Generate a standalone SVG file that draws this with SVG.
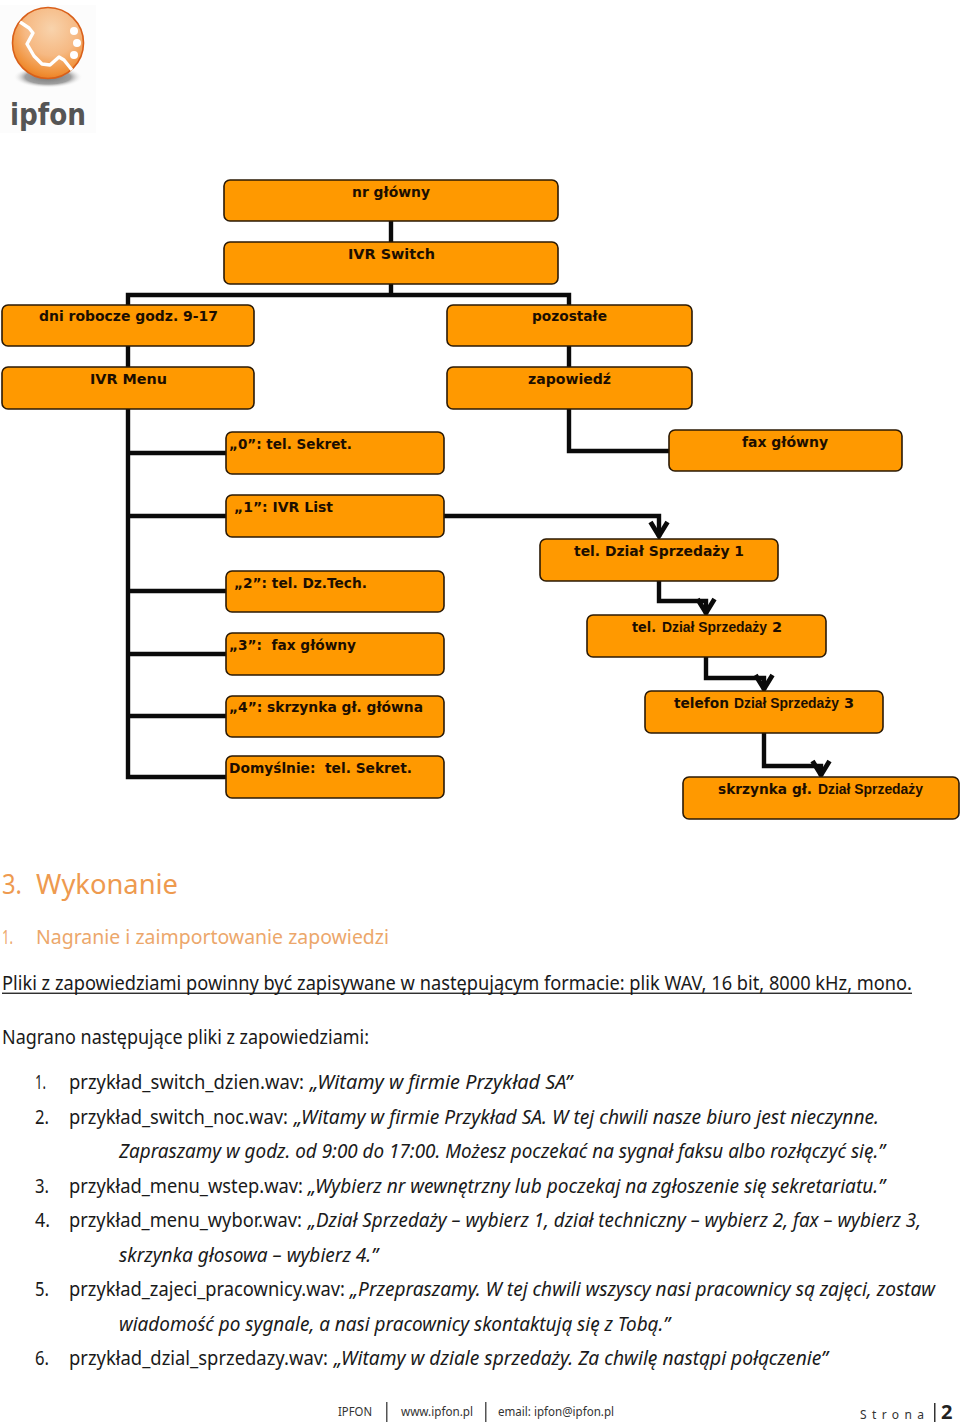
<svg xmlns="http://www.w3.org/2000/svg" width="960" height="1425" viewBox="0 0 960 1425">
<style>
.box{fill:#ff9900;stroke:#2b1a05;stroke-width:1.6}
.l{font:bold 14.5px "DejaVu Sans",Verdana,sans-serif;fill:#1c0e00}
.a{font:bold 14px "Liberation Sans",Arial,sans-serif;fill:#1c0e00}
.c{fill:none;stroke:#0a0a0a;stroke-width:4.4;stroke-linejoin:miter}
.t{font:19px "Noto Sans",sans-serif;fill:#1a1a1a}
.i{font-style:italic}
.h1{font:27.5px "Noto Sans",sans-serif;fill:#ee9a4f}
.h2{font:20px "Noto Sans",sans-serif;fill:#eca76b}
.f{font:13px "Noto Sans",sans-serif;fill:#333}
</style>
<defs>
<radialGradient id="ball" cx="0.55" cy="0.3" r="0.75"><stop offset="0" stop-color="#f8d3ac"/><stop offset="0.5" stop-color="#f6b983"/><stop offset="0.85" stop-color="#f08f35"/><stop offset="1" stop-color="#e8741a"/></radialGradient>
<radialGradient id="shadow"><stop offset="0" stop-color="#777"/><stop offset="0.65" stop-color="#a0a0a0"/><stop offset="1" stop-color="#fff" stop-opacity="0"/></radialGradient>
<marker id="arrow" markerUnits="userSpaceOnUse" markerWidth="24" markerHeight="24" refX="18" refY="12" orient="auto" viewBox="0 0 24 24">
<path d="M3 3.5 L17 12 L3 20.5" fill="none" stroke="#0a0a0a" stroke-width="4.8"/>
</marker>
</defs>
<rect width="960" height="1425" fill="#fff"/>
<g id="logo">
<rect x="0" y="5" width="96" height="128" fill="#fcfcfc"/>
<ellipse cx="48" cy="77" rx="35" ry="11" fill="url(#shadow)"/>
<circle cx="48" cy="43" r="35.5" fill="url(#ball)" stroke="#d9601a" stroke-width="1.6"/>
<path d="M20 22 L29 28 L33 33 L27 44 L34 56 L42 64 L50 65 L59 57 L64 60 L72 70" fill="none" stroke="#fff" stroke-width="3.4" stroke-linejoin="round"/>
<circle cx="74" cy="31" r="4" fill="#fff"/><circle cx="77" cy="43" r="4" fill="#fff"/><circle cx="74" cy="55" r="4" fill="#fff"/>
<text x="10" y="125" font-family="'DejaVu Sans Condensed','DejaVu Sans',sans-serif" font-weight="bold" font-size="31" fill="#555" textLength="76" lengthAdjust="spacingAndGlyphs">ipfon</text>
</g>
<g id="connectors">
<path class="c" d="M391 221V242"/>
<path class="c" d="M391 284V295M128 305V295H569V305"/>
<path class="c" d="M128 346V367"/>
<path class="c" d="M569 346V367"/>
<path class="c" d="M128 409V777H226M128 453H226M128 516H226M128 591H226M128 654H226M128 716H226"/>
<path class="c" d="M569 409V451H669"/>
<path class="c" d="M444 516H659V537" marker-end="url(#arrow)"/>
<path class="c" d="M659 581V601H706V614" marker-end="url(#arrow)"/>
<path class="c" d="M706 657V678H764V690" marker-end="url(#arrow)"/>
<path class="c" d="M764 733V766H821V776" marker-end="url(#arrow)"/>
</g>
<g id="n-glowny"><rect class="box" x="224" y="180" width="334" height="41" rx="6"/><text class="l" x="352" y="197" textLength="78" lengthAdjust="spacingAndGlyphs">nr główny</text></g>
<g id="n-switch"><rect class="box" x="224" y="242" width="334" height="42" rx="6"/><text class="l" x="348" y="259" textLength="87" lengthAdjust="spacingAndGlyphs">IVR Switch</text></g>
<g id="n-dni"><rect class="box" x="2" y="305" width="252" height="41" rx="6"/><text class="l" x="39" y="321" textLength="179" lengthAdjust="spacingAndGlyphs">dni robocze godz. 9-17</text></g>
<g id="n-pozostale"><rect class="box" x="447" y="305" width="245" height="41" rx="6"/><text class="l" x="532" y="321" textLength="75" lengthAdjust="spacingAndGlyphs">pozostałe</text></g>
<g id="n-menu"><rect class="box" x="2" y="367" width="252" height="42" rx="6"/><text class="l" x="90" y="384" textLength="77" lengthAdjust="spacingAndGlyphs">IVR Menu</text></g>
<g id="n-zapowiedz"><rect class="box" x="447" y="367" width="245" height="42" rx="6"/><text class="l" x="528" y="384" textLength="83" lengthAdjust="spacingAndGlyphs">zapowiedź</text></g>
<g id="n-0"><rect class="box" x="226" y="432" width="218" height="42" rx="6"/><text class="l" x="229" y="449" textLength="123" lengthAdjust="spacingAndGlyphs">„0”: tel. Sekret.</text></g>
<g id="n-fax"><rect class="box" x="669" y="430" width="233" height="41" rx="6"/><text class="l" x="742" y="447" textLength="86" lengthAdjust="spacingAndGlyphs">fax główny</text></g>
<g id="n-1"><rect class="box" x="226" y="495" width="218" height="42" rx="6"/><text class="l" x="234" y="512" textLength="99" lengthAdjust="spacingAndGlyphs">„1”: IVR List</text></g>
<g id="n-2"><rect class="box" x="226" y="571" width="218" height="41" rx="6"/><text class="l" x="234" y="588" textLength="133" lengthAdjust="spacingAndGlyphs">„2”: tel. Dz.Tech.</text></g>
<g id="n-3"><rect class="box" x="226" y="633" width="218" height="42" rx="6"/><text class="l" x="229" y="650" textLength="127" lengthAdjust="spacingAndGlyphs" xml:space="preserve">„3”:  fax główny</text></g>
<g id="n-4"><rect class="box" x="226" y="696" width="218" height="41" rx="6"/><text class="l" x="229" y="712" textLength="194" lengthAdjust="spacingAndGlyphs">„4”: skrzynka gł. główna</text></g>
<g id="n-dom"><rect class="box" x="226" y="756" width="218" height="42" rx="6"/><text class="l" x="229" y="773" textLength="183" lengthAdjust="spacingAndGlyphs" xml:space="preserve">Domyślnie:  tel. Sekret.</text></g>
<g id="n-tel1"><rect class="box" x="540" y="539" width="238" height="42" rx="6"/><text class="l" x="574" y="556" textLength="170" lengthAdjust="spacingAndGlyphs">tel. Dział Sprzedaży 1</text></g>
<g id="n-tel2"><rect class="box" x="587" y="615" width="239" height="42" rx="6"/><text class="l" x="632" y="632" textLength="24" lengthAdjust="spacingAndGlyphs">tel.</text><text class="a" x="662" y="632" textLength="105" lengthAdjust="spacingAndGlyphs">Dział Sprzedaży</text><text class="l" x="772" y="632">2</text></g>
<g id="n-tel3"><rect class="box" x="645" y="691" width="238" height="42" rx="6"/><text class="l" x="674" y="708" textLength="55" lengthAdjust="spacingAndGlyphs">telefon</text><text class="a" x="734" y="708" textLength="105" lengthAdjust="spacingAndGlyphs">Dział Sprzedaży</text><text class="l" x="844" y="708">3</text></g>
<g id="n-skrz"><rect class="box" x="683" y="777" width="276" height="42" rx="6"/><text class="l" x="718" y="794" textLength="94" lengthAdjust="spacingAndGlyphs">skrzynka gł.</text><text class="a" x="818" y="794" textLength="105" lengthAdjust="spacingAndGlyphs">Dział Sprzedaży</text></g>
<g id="body">
<text class="h1" x="2" y="894" textLength="20" lengthAdjust="spacingAndGlyphs">3.</text><text class="h1" x="36" y="894" textLength="142" lengthAdjust="spacingAndGlyphs">Wykonanie</text>
<text class="h2" x="2" y="944" textLength="11" lengthAdjust="spacingAndGlyphs">1.</text><text class="h2" x="36" y="944" textLength="353" lengthAdjust="spacingAndGlyphs">Nagranie i zaimportowanie zapowiedzi</text>
<text class="t" x="2" y="990" textLength="910" lengthAdjust="spacingAndGlyphs">Pliki z zapowiedziami powinny być zapisywane w następującym formacie: plik WAV, 16 bit, 8000 kHz, mono.</text>
<rect x="2" y="992.6" width="910" height="1.3" fill="#1a1a1a"/>
<text class="t" x="2" y="1044" textLength="367" lengthAdjust="spacingAndGlyphs">Nagrano następujące pliki z zapowiedziami:</text>
<text class="t" x="35" y="1089" textLength="11" lengthAdjust="spacingAndGlyphs">1.</text><text class="t" x="69" y="1089" textLength="235" lengthAdjust="spacingAndGlyphs">przykład_switch_dzien.wav:</text><text class="t i" x="310" y="1089" textLength="262" lengthAdjust="spacingAndGlyphs">„Witamy w firmie Przykład SA”</text>
<text class="t" x="35" y="1124" textLength="14" lengthAdjust="spacingAndGlyphs">2.</text><text class="t" x="69" y="1124" textLength="219" lengthAdjust="spacingAndGlyphs">przykład_switch_noc.wav:</text><text class="t i" x="294" y="1124" textLength="585" lengthAdjust="spacingAndGlyphs">„Witamy w firmie Przykład SA. W tej chwili nasze biuro jest nieczynne.</text>
<text class="t i" x="119" y="1158" textLength="766" lengthAdjust="spacingAndGlyphs">Zapraszamy w godz. od 9:00 do 17:00. Możesz poczekać na sygnał faksu albo rozłączyć się.”</text>
<text class="t" x="35" y="1193" textLength="14" lengthAdjust="spacingAndGlyphs">3.</text><text class="t" x="69" y="1193" textLength="234" lengthAdjust="spacingAndGlyphs">przykład_menu_wstep.wav:</text><text class="t i" x="308" y="1193" textLength="577" lengthAdjust="spacingAndGlyphs">„Wybierz nr wewnętrzny lub poczekaj na zgłoszenie się sekretariatu.”</text>
<text class="t" x="35" y="1227" textLength="15" lengthAdjust="spacingAndGlyphs">4.</text><text class="t" x="69" y="1227" textLength="233" lengthAdjust="spacingAndGlyphs">przykład_menu_wybor.wav:</text><text class="t i" x="308" y="1227" textLength="613" lengthAdjust="spacingAndGlyphs">„Dział Sprzedaży – wybierz 1, dział techniczny – wybierz 2, fax – wybierz 3,</text>
<text class="t i" x="119" y="1262" textLength="259" lengthAdjust="spacingAndGlyphs">skrzynka głosowa – wybierz 4.”</text>
<text class="t" x="35" y="1296" textLength="14" lengthAdjust="spacingAndGlyphs">5.</text><text class="t" x="69" y="1296" textLength="276" lengthAdjust="spacingAndGlyphs">przykład_zajeci_pracownicy.wav:</text><text class="t i" x="350" y="1296" textLength="585" lengthAdjust="spacingAndGlyphs">„Przepraszamy. W tej chwili wszyscy nasi pracownicy są zajęci, zostaw</text>
<text class="t i" x="119" y="1331" textLength="551" lengthAdjust="spacingAndGlyphs">wiadomość po sygnale, a nasi pracownicy skontaktują się z Tobą.”</text>
<text class="t" x="35" y="1365" textLength="14" lengthAdjust="spacingAndGlyphs">6.</text><text class="t" x="69" y="1365" textLength="259" lengthAdjust="spacingAndGlyphs">przykład_dzial_sprzedazy.wav:</text><text class="t i" x="334" y="1365" textLength="494" lengthAdjust="spacingAndGlyphs">„Witamy w dziale sprzedaży. Za chwilę nastąpi połączenie”</text>
</g>
<g id="footer">
<text class="f" x="338" y="1416" textLength="34" lengthAdjust="spacingAndGlyphs">IPFON</text>
<rect x="386" y="1402" width="1.5" height="20" fill="#555"/>
<text class="f" x="401" y="1416" textLength="72" lengthAdjust="spacingAndGlyphs">www.ipfon.pl</text>
<rect x="485" y="1402" width="1.5" height="20" fill="#555"/>
<text class="f" x="498" y="1416" textLength="116" lengthAdjust="spacingAndGlyphs">email: ipfon@ipfon.pl</text>
<text class="f" x="860" y="1419" textLength="64" style="font-size:12px">Strona</text>
<rect x="934" y="1403" width="1.5" height="19" fill="#333"/>
<text x="941" y="1419" font-family="'Noto Sans',sans-serif" font-weight="bold" font-size="20" fill="#222">2</text>
</g>
</svg>
